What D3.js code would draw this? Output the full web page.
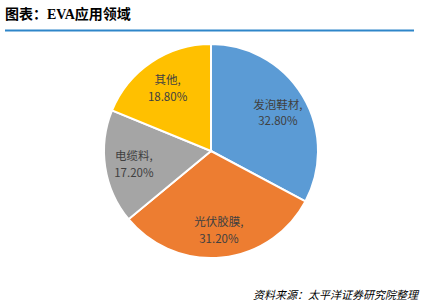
<!DOCTYPE html>
<html>
<head>
<meta charset="utf-8">
<script src="https://cdn.jsdelivr.net/npm/d3@7"></script>
<style>
  body { margin: 0; background: #fff; }
  svg { display: block; }
</style>
</head>
<body>
<div id="main"></div>
<script>
// chart data
const categories = ["发泡鞋材", "光伏胶膜", "电缆料", "其他"];
const values = [32.8, 31.2, 17.2, 18.8];
const colors = ["#5b9bd5", "#ed7d31", "#a5a5a5", "#ffc000"];

const ctx = {width: 428, height: 306, cx: 211, cy: 151, r: 107, labelR: 78};

const svg = d3.select("#main").append("svg")
  .attr("width", ctx.width)
  .attr("height", ctx.height);

// title
const title = svg.append("text")
  .attr("x", 5).attr("y", 19)
  .attr("font-size", 14)
  .attr("font-weight", "bold")
  .attr("fill", "#000");
title.append("tspan").attr("font-family", "Noto Sans CJK SC").text("图表：");
title.append("tspan").attr("font-family", "Liberation Serif, Noto Sans CJK SC").text("EVA应用领域");

svg.append("line")
  .attr("x1", 5).attr("x2", 414)
  .attr("y1", 30.5).attr("y2", 30.5)
  .attr("stroke", "#2e86c9")
  .attr("stroke-width", 2);

const data = categories.map((c, i) => ({name: c, value: values[i], color: colors[i]}));

const pie = d3.pie().sort(null).value(d => d.value);
const arc = d3.arc().innerRadius(0).outerRadius(ctx.r);
const labelArc = d3.arc().innerRadius(ctx.labelR).outerRadius(ctx.labelR);

const g = svg.append("g").attr("transform", `translate(${ctx.cx},${ctx.cy})`);

g.selectAll("path")
  .data(pie(data))
  .enter().append("path")
  .attr("d", arc)
  .attr("fill", d => d.data.color)
  .attr("stroke", "#fff")
  .attr("stroke-width", 2);

const labels = g.selectAll("text.lbl")
  .data(pie(data))
  .enter().append("text")
  .attr("class", "lbl")
  .attr("text-anchor", "middle")
  .attr("font-family", "Noto Sans CJK SC, sans-serif")
  .attr("font-size", 11.5)
  .attr("fill", "#404040")
  .attr("transform", d => `translate(${labelArc.centroid(d)})`);

labels.append("tspan").attr("x", 0).attr("dy", "-0.2em").text(d => d.data.name + ",");
labels.append("tspan").attr("x", 0).attr("dy", "1.45em").text(d => d.data.value.toFixed(2) + "%");

// source
svg.append("text")
  .attr("x", 418).attr("y", 299)
  .attr("text-anchor", "end")
  .attr("font-family", "Noto Sans CJK SC, sans-serif")
  .attr("font-size", 11)
  .attr("font-style", "italic")
  .attr("fill", "#000")
  .text("资料来源：太平洋证券研究院整理");
</script>
</body>
</html>
